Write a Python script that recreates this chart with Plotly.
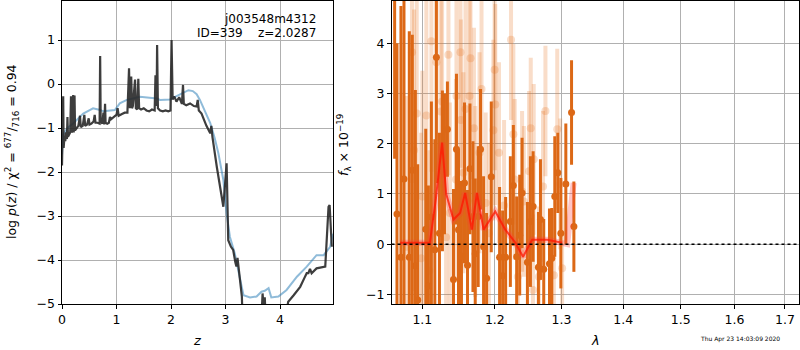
import math
import plotly.graph_objects as go

# ---------------- Left panel: log p(z) ----------------
z_pz = [0.000, 0.012, 0.022, 0.030, 0.045, 0.060, 0.075, 0.090, 0.100, 0.110, 0.130, 0.150,
        0.165, 0.175, 0.195, 0.205, 0.215, 0.230, 0.240, 0.270, 0.300, 0.330, 0.345, 0.380,
        0.410, 0.425, 0.460, 0.490, 0.505, 0.540, 0.580, 0.600, 0.615, 0.650, 0.690, 0.700,
        0.710, 0.740, 0.760, 0.775, 0.790, 0.800, 0.830, 0.860, 0.880, 0.900, 0.940, 0.980,
        1.000, 1.020, 1.040, 1.060, 1.100, 1.150, 1.200, 1.230, 1.245, 1.270, 1.285, 1.300,
        1.340, 1.355, 1.380, 1.400, 1.415, 1.450, 1.500, 1.550, 1.600, 1.650, 1.700, 1.715,
        1.735, 1.745, 1.760, 1.800, 1.850, 1.900, 1.950, 1.990, 2.010, 2.030, 2.060, 2.100,
        2.150, 2.200, 2.220, 2.235, 2.280, 2.350, 2.420, 2.470, 2.490, 2.510, 2.560, 2.650,
        2.720, 2.740, 2.760, 2.840, 2.900, 2.960, 3.020, 3.050, 3.100, 3.140, 3.180, 3.200,
        3.220, 3.250, 3.300, 3.320, 3.650, 3.680, 3.700, 3.720, 3.740, 3.800, 3.840, 4.100,
        4.150, 4.250, 4.370, 4.450, 4.490, 4.520, 4.550, 4.580, 4.670, 4.830, 4.860, 4.890,
        4.910, 4.950]
logpz = [-1.85, -1.30, -0.28, -1.45, -1.20, -1.30, -1.10, -1.25, -0.75, -1.20, -1.15, -1.10,
         -0.28, -1.10, -1.05, -0.25, -1.10, -0.26, -1.05, -1.00, -0.95, -0.72, -0.98, -0.95,
         -0.70, -0.95, -0.92, -0.78, -0.92, -0.90, -0.85, -0.70, -0.88, -0.88, -0.90, 0.64,
         -0.85, -0.90, -0.65, -0.92, -0.45, -0.88, -0.90, -0.88, -0.75, -0.80, -0.75, -0.72,
         -0.70, -0.55, -0.72, -0.70, -0.68, -0.65, -0.65, 0.36, -0.55, 0.17, -0.55, -0.50,
         0.10, -0.55, -0.58, 0.12, -0.55, -0.58, -0.55, -0.60, -0.62, -0.58, -0.60, 0.20,
         -0.50, 0.89, -0.55, -0.60, -0.62, -0.60, -0.62, -0.60, 1.00, -0.35, -0.28, -0.40,
         -0.30, -0.45, -0.02, -0.45, -0.48, -0.44, -0.50, -0.51, -0.36, -0.60, -0.67, -0.95,
         -1.12, -0.95, -1.20, -1.88, -2.30, -2.79, -1.80, -3.55, -3.70, -3.77, -4.05, -4.15,
         -3.95, -4.30, -4.83, -5.60, -5.60, -4.76, -5.10, -4.85, -5.40, -5.30, -5.60, -5.30,
         -4.95, -4.80, -4.61, -4.40, -4.30, -4.30, -4.20, -4.30, -4.19, -4.15, -3.40, -2.79,
         -2.75, -3.70]

z_prior = [0.00, 0.02, 0.10, 0.21, 0.39, 0.57, 0.70, 0.76, 0.97, 1.06, 1.19, 1.43, 1.74, 1.80,
           1.98, 2.14, 2.32, 2.40, 2.47, 2.53, 2.62, 2.72, 2.80, 2.87, 2.96, 3.02, 3.08, 3.17,
           3.27, 3.33, 3.45, 3.57, 3.66, 3.72, 3.79, 3.84, 3.97, 4.12, 4.31, 4.49, 4.67, 4.80,
           4.92, 4.97]
logp_prior = [-1.60, -1.15, -1.00, -0.89, -0.67, -0.55, -0.59, -0.62, -0.59, -0.44, -0.36,
              -0.29, -0.33, -0.36, -0.35, -0.25, -0.14, -0.16, -0.23, -0.36, -0.60, -0.89,
              -1.22, -1.58, -2.18, -2.94, -3.47, -3.85, -4.45, -4.80, -4.85, -4.83, -4.72,
              -4.70, -4.64, -4.85, -4.83, -4.68, -4.38, -4.15, -3.89, -3.89, -3.70, -3.40]

# ---------------- Right panel: spectrum ----------------
lam_a = [1.0640, 1.0670, 1.0721, 1.0760, 1.0829, 1.0868, 1.0908, 1.0939, 1.1045, 1.1080,
         1.1120, 1.1166, 1.1187, 1.1228, 1.1268, 1.1296, 1.1336, 1.1419, 1.1460, 1.1488,
         1.1529, 1.1571, 1.1613, 1.1647, 1.1689, 1.1721, 1.1763, 1.1796, 1.1839, 1.1882,
         1.1949, 1.2069, 1.2113, 1.2157, 1.2226, 1.2270, 1.2319, 1.2364, 1.2399, 1.2479,
         1.2524, 1.2565, 1.2645, 1.2676, 1.2726, 1.2814, 1.2850, 1.2896, 1.2943, 1.2990,
         1.3068, 1.3158, 1.3195]
flux_a = [5.50, 0.60, -0.26, 1.30, -0.26, 1.47, -0.43, -1.11, 0.30, -0.83,
          0.54, -0.11, 3.72, 0.22, 1.46, 1.60, 2.29, -0.70, 1.89, 0.29,
          -0.24, 1.22, -0.42, 1.50, 0.55, -0.19, 0.55, 1.89, -0.05, -0.68,
          1.34, -0.26, -0.63, -0.26, 0.45, 1.17, -0.25, 0.18, 1.02, -0.36,
          0.45, 0.75, -0.46, 0.49, -0.50, -0.39, -0.28, 0.95, 1.42, 0.22,
          1.20, 2.62, 0.35]
err_a = [3.8, 3.4, 5.0, 4.0, 4.5, 2.7, 3.5, 2.7, 2.0, 2.0,
         2.3, 2.2, 2.5, 2.0, 1.6, 1.4, 0.95, 1.8, 1.5, 1.6,
         1.5, 1.6, 1.5, 1.3, 1.5, 1.5, 1.4, 1.2, 1.4, 1.3,
         1.5, 1.4, 1.3, 1.2, 1.3, 1.2, 1.2, 1.2, 1.1, 1.2,
         1.3, 1.1, 1.1, 1.2, 1.0, 1.1, 1.0, 1.2, 0.8, 1.1,
         1.2, 1.04, 0.9]

lam_b = [1.0795, 1.0864, 1.0891, 1.0926, 1.0983, 1.1000, 1.1053, 1.1093, 1.1120, 1.1187,
         1.1247, 1.1264, 1.1318, 1.1350, 1.1370, 1.1453, 1.1460, 1.1515, 1.1521, 1.1556,
         1.1585, 1.1641, 1.1655, 1.1703, 1.1721, 1.1782, 1.1810, 1.1869, 1.1915, 1.1979,
         1.1997, 1.2007, 1.2060, 1.2134, 1.2236, 1.2270, 1.2290, 1.2336, 1.2399, 1.2426,
         1.2504, 1.2529, 1.2562, 1.2574, 1.2652, 1.2715, 1.2752, 1.2881, 1.2934, 1.2981,
         1.3010]
flux_b = [-0.05, 3.82, 1.87, 2.60, -0.28, 0.95, 2.56, -0.53, 4.04, 3.62,
          2.64, 2.84, 0.14, 3.77, 0.62, 1.29, 2.95, 3.82, 2.47, 1.42,
          2.69, 2.95, 3.70, 2.31, 0.85, 1.82, 3.09, 0.82, 0.22, 2.27,
          3.47, 2.78, 1.82, 0.77, 4.07, 2.19, 1.29, -0.65, 1.05, 0.85,
          1.45, 2.31, -0.91, 1.69, -0.65, 1.15, 2.65, -0.62, 2.29, 1.20,
          -0.48]
err_b = [3.0, 2.6, 2.8, 2.8, 2.5, 2.5, 2.6, 2.4, 2.6, 2.5,
         2.4, 2.3, 2.2, 2.4, 2.2, 2.0, 2.2, 2.3, 2.0, 2.0,
         2.2, 2.1, 2.4, 2.0, 1.9, 2.0, 2.2, 1.8, 1.8, 1.8,
         2.0, 2.0, 1.8, 1.7, 1.6, 1.8, 1.6, 1.6, 1.6, 1.5,
         1.6, 1.4, 1.5, 1.5, 1.4, 1.5, 1.3, 1.3, 1.6, 1.3,
         1.2]

lam_model = [1.071, 1.110, 1.118, 1.1264, 1.132, 1.1419, 1.151, 1.158, 1.1674, 1.1745,
             1.1839, 1.2007, 1.2152, 1.230, 1.2414, 1.255, 1.278, 1.301, 1.309, 1.319]
flux_model = [0.03, 0.03, 0.90, 2.02, 1.00, 0.49, 0.62, 1.02, 0.29, 1.02,
              0.29, 0.65, 0.29, 0.03, -0.25, 0.09, 0.09, 0.03, 0.00, 1.22]
n_core = 18  # model points drawn in solid red

left_xticks = [0, 1, 2, 3, 4]
left_yticks = [-5, -4, -3, -2, -1, 0, 1]
right_xticks = [1.1, 1.2, 1.3, 1.4, 1.5, 1.6, 1.7]
right_yticks = [-1, 0, 1, 2, 3, 4]

ORANGE = "rgb(220,104,22)"
ORANGE_L = "rgba(230,120,40,0.25)"
FONT = "DejaVu Sans"

fig = go.Figure()

fig.add_trace(go.Scatter(x=z_prior, y=logp_prior, mode="lines",
                         line=dict(color="rgba(31,119,180,0.5)", width=2),
                         xaxis="x", yaxis="y", showlegend=False))
fig.add_trace(go.Scatter(x=z_pz, y=logpz, mode="lines",
                         line=dict(color="rgba(40,40,40,0.9)", width=2.2),
                         xaxis="x", yaxis="y", showlegend=False))

fig.add_trace(go.Scatter(x=lam_b, y=flux_b, mode="markers",
                         marker=dict(color=ORANGE_L, size=8),
                         error_y=dict(type="data", array=err_b, color=ORANGE_L,
                                      thickness=4, width=0),
                         xaxis="x2", yaxis="y2", showlegend=False))
fig.add_trace(go.Scatter(x=lam_a, y=flux_a, mode="markers",
                         marker=dict(color=ORANGE, size=7),
                         error_y=dict(type="data", array=err_a, color=ORANGE,
                                      thickness=3, width=0),
                         xaxis="x2", yaxis="y2", showlegend=False))
fig.add_trace(go.Scatter(x=lam_model, y=flux_model, mode="lines",
                         line=dict(color="rgba(255,60,60,0.3)", width=6),
                         xaxis="x2", yaxis="y2", showlegend=False))
fig.add_trace(go.Scatter(x=lam_model[:n_core], y=flux_model[:n_core], mode="lines",
                         line=dict(color="rgba(255,20,0,0.75)", width=2),
                         xaxis="x2", yaxis="y2", showlegend=False))

fig.add_shape(type="line", xref="x2 domain", x0=0, x1=1, yref="y2", y0=0, y1=0,
              line=dict(color="black", width=1.5, dash="dot"))

axis_common = dict(showline=True, mirror=True, linecolor="black", linewidth=1,
                   ticks="outside", ticklen=3.5, tickcolor="black", tickwidth=1,
                   showgrid=True, gridcolor="#b0b0b0", gridwidth=1, zeroline=False,
                   automargin=False,
                   tickfont=dict(family=FONT, size=12.5, color="black"))

ydom = [1 - 304 / 350, 1 - 1 / 350]
fig.update_layout(
    width=800, height=350,
    margin=dict(l=0, r=0, t=0, b=0),
    paper_bgcolor="white", plot_bgcolor="white",
    font=dict(family=FONT, color="black"),
    xaxis=dict(domain=[62 / 800, 333 / 800], range=[0, 4.972], tickvals=left_xticks,
               anchor="y", **axis_common),
    yaxis=dict(domain=ydom, range=[-5, 1.888], tickvals=left_yticks, anchor="x",
               **axis_common),
    xaxis2=dict(domain=[391.5 / 800, 799 / 800], type="log",
                range=[math.log10(1.06), math.log10(1.729)], tickvals=right_xticks,
                ticktext=[str(v) for v in right_xticks], anchor="y2", **axis_common),
    yaxis2=dict(domain=ydom, range=[-1.19, 4.84], tickvals=right_yticks, anchor="x2",
                **axis_common),
)

ann = [
    dict(text="j003548m4312", x=318 / 800, y=1 - 19 / 350, xanchor="right", yanchor="middle",
         font=dict(size=12)),
    dict(text="ID=339\u00a0\u00a0\u00a0\u00a0z=2.0287", x=318 / 800, y=1 - 33 / 350,
         xanchor="right", yanchor="middle", font=dict(size=12)),
    dict(text="<i>z</i>", x=197 / 800, y=1 - 340 / 350, xanchor="center", yanchor="middle",
         font=dict(size=13)),
    dict(text="<i>λ</i>", x=595 / 800, y=1 - 340 / 350, xanchor="center", yanchor="middle",
         font=dict(size=13)),
    dict(text="log <i>p</i>(<i>z</i>) / χ<sup>2</sup> = <sup>677</sup>/<sub>716</sub> = 0.94",
         x=12 / 800, y=1 - 152 / 350, xanchor="center", yanchor="middle", textangle=-90,
         font=dict(size=12.5)),
    dict(text="<i>f</i><sub>λ</sub> × 10<sup>−19</sup>", x=344 / 800, y=1 - 145 / 350,
         xanchor="center", yanchor="middle", textangle=-90, font=dict(size=12.5)),
    dict(text="Thu Apr 23 14:03:09 2020", x=740 / 800, y=1 - 339 / 350, xanchor="center",
         yanchor="middle", font=dict(size=6)),
]
for a in ann:
    a.update(xref="paper", yref="paper", showarrow=False)
    a["font"].setdefault("family", FONT)
    a["font"].setdefault("color", "black")
fig.update_layout(annotations=ann)

fig.write_html("out.html", config={"displayModeBar": False},
               post_script="document.body.style.margin='0px';"
                           "document.body.style.overflow='hidden';")
